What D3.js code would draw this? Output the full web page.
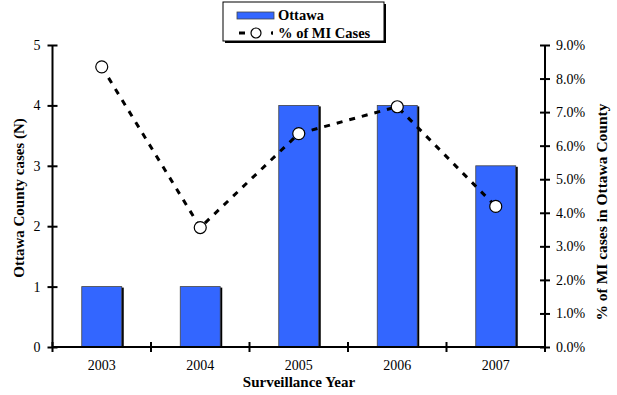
<!DOCTYPE html>
<html><head><meta charset="utf-8">
<script src="https://cdn.jsdelivr.net/npm/d3@7"></script>
<style>
body{margin:0;background:#fff;}
svg, svg text{font-family:'Liberation Serif','Times New Roman',Times,serif !important;}
</style></head>
<body><svg id="c" width="617" height="395"></svg>
<script>
const years = ["2003","2004","2005","2006","2007"];
const cases = [1,1,4,4,3];
const pctMI = [8.35,3.56,6.36,7.16,4.19];
const leftTicks = [0,1,2,3,4,5];
const rightTicks = [0,1,2,3,4,5,6,7,8,9];

const FF = "'Liberation Serif', serif";
const svg = d3.select("#c").attr("font-family",FF);
const L = 52.5, R = 545, T = 45, B = 347;
const x = d3.scaleBand().domain(years).range([L,R]).paddingInner(0.594).paddingOuter(0.297);
const xb = d3.scaleBand().domain(years).range([L,R]);
const yL = d3.scaleLinear().domain([0,5]).range([B,T]);
const yR = d3.scaleLinear().domain([0,9]).range([B,T]);

// bars (shadow + bar)
const g = svg.append("g");
g.selectAll(".sh").data(years).join("rect")
  .attr("x",d=>x(d)+2).attr("y",(d,i)=>yL(cases[i])+1)
  .attr("width",x.bandwidth()).attr("height",(d,i)=>B-yL(cases[i])-1)
  .attr("fill","#000");
g.selectAll(".bar").data(years).join("rect")
  .attr("x",d=>x(d)).attr("y",(d,i)=>yL(cases[i]))
  .attr("width",x.bandwidth()).attr("height",(d,i)=>B-yL(cases[i]))
  .attr("fill","#3366FF").attr("stroke","#444").attr("stroke-width",0.8);

// axes
const axL = d3.axisLeft(yL).tickValues(leftTicks).tickSize(0).tickPadding(12).tickFormat(d3.format("d"));
const gl = svg.append("g").attr("transform",`translate(${L},0)`).call(axL);
const axR = d3.axisRight(yR).tickValues(rightTicks).tickSize(0).tickPadding(11).tickFormat(d=>d.toFixed(1)+"%");
const gr = svg.append("g").attr("transform",`translate(${R},0)`).call(axR);
const axB = d3.axisBottom(x).tickSize(0).tickPadding(13);
const gb = svg.append("g").attr("transform",`translate(0,${B})`).call(axB);
[gl,gr,gb].forEach(a=>{
  a.attr("font-family",FF);
  a.select(".domain").attr("stroke","#000").attr("stroke-width",2);
  a.selectAll("text").attr("font-size",14).attr("fill","#000").attr("font-family",FF);
});
gb.select(".domain").attr("d",`M${L},0H${R}`);
gl.select(".domain").attr("d",`M0,${B}V${T}`);
gr.select(".domain").attr("d",`M0,${B}V${T}`);
// crossing tick marks
gl.selectAll(".tick").append("line").attr("x1",-5).attr("x2",5).attr("stroke","#000").attr("stroke-width",2);
gr.selectAll(".tick").append("line").attr("x1",-5).attr("x2",5).attr("stroke","#000").attr("stroke-width",2);
const bounds = years.map(d=>xb(d)).concat([R]);
svg.append("g").selectAll("line").data(bounds).join("line")
  .attr("x1",d=>d).attr("x2",d=>d).attr("y1",B-5).attr("y2",B+5)
  .attr("stroke","#000").attr("stroke-width",2);

// line
const cx = d=>x(d)+x.bandwidth()/2;
const line = d3.line().x((d,i)=>cx(years[i])).y(d=>yR(d));
svg.append("path").datum(pctMI).attr("d",line).attr("fill","none")
  .attr("stroke","#000").attr("stroke-width",3).attr("stroke-dasharray","6,7");
svg.selectAll(".pt").data(pctMI).join("circle")
  .attr("cx",(d,i)=>cx(years[i])).attr("cy",d=>yR(d)).attr("r",6)
  .attr("fill","#fff").attr("stroke","#000").attr("stroke-width",1.2);

// titles
svg.append("text").attr("x",299).attr("y",387).attr("text-anchor","middle")
  .attr("font-size",15).attr("font-weight","bold").text("Surveillance Year");
svg.append("text").attr("transform",`translate(24,198) rotate(-90)`).attr("text-anchor","middle")
  .attr("font-size",15).attr("font-weight","bold").text("Ottawa County cases (N)");
svg.append("text").attr("transform",`translate(607,212) rotate(-90)`).attr("text-anchor","middle")
  .attr("font-size",15.5).attr("font-weight","bold").text("% of MI cases in Ottawa County");

// legend
const lg = svg.append("g");
lg.append("rect").attr("x",225).attr("y",4).attr("width",161).attr("height",39).attr("fill","#000");
lg.append("rect").attr("x",223).attr("y",2).attr("width",161).attr("height",39).attr("fill","#fff").attr("stroke","#000").attr("stroke-width",1);
lg.append("rect").attr("x",237).attr("y",12).attr("width",37).attr("height",7).attr("fill","#3366FF").attr("stroke","#444").attr("stroke-width",0.8);
lg.append("text").attr("x",278).attr("y",20).attr("font-size",14.5).attr("font-weight","bold").text("Ottawa");
lg.append("line").attr("x1",239).attr("x2",273).attr("y1",33).attr("y2",33)
  .attr("stroke","#000").attr("stroke-width",3).attr("stroke-dasharray","6,27");
lg.append("line").attr("x1",271).attr("x2",273).attr("y1",33).attr("y2",33).attr("stroke","#000").attr("stroke-width",3);
lg.append("circle").attr("cx",256).attr("cy",33).attr("r",5).attr("fill","#fff").attr("stroke","#000").attr("stroke-width",1.2);
lg.append("text").attr("x",278).attr("y",38).attr("font-size",14.5).attr("font-weight","bold").text("% of MI Cases");
</script></body></html>
